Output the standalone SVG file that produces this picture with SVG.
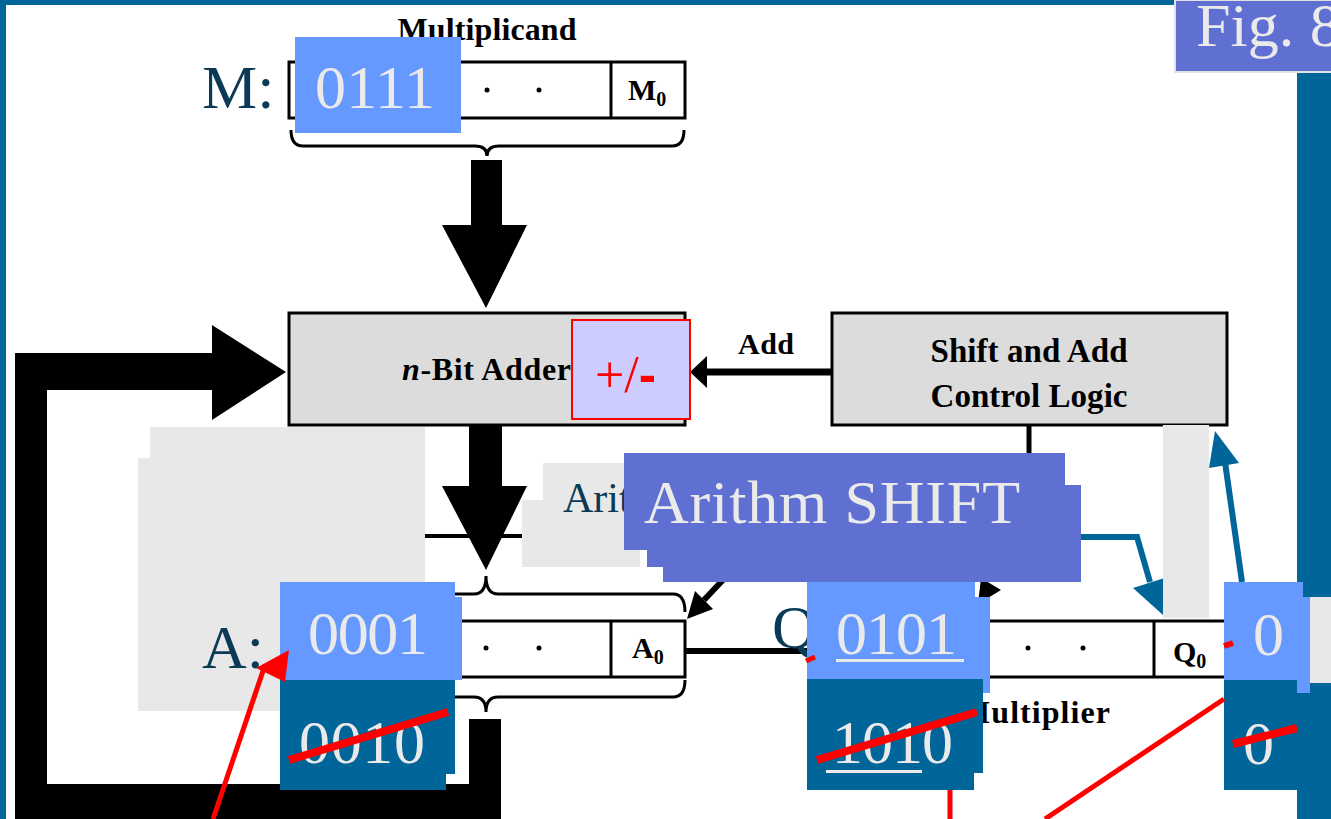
<svg xmlns="http://www.w3.org/2000/svg" width="1331" height="819" viewBox="0 0 1331 819">
<style>
.b{font-family:"Liberation Serif","Times New Roman",serif;font-weight:bold;fill:#000}
.lbl{font-family:"Liberation Serif","Times New Roman",serif;fill:#0A3A55}
.val{font-family:"Liberation Serif","Times New Roman",serif;fill:#EAEAEA;font-size:62px}
.reg{fill:#fff;stroke:#000;stroke-width:3}
.box{fill:#DDDCDD;stroke:#000;stroke-width:3}
.brace{fill:none;stroke:#000;stroke-width:3}
.lt{fill:#6699FF}
.dk{fill:#006699}
.gr{fill:#E8E8E8}
.red{stroke:#FF0000;fill:none}
.bl{stroke:#006699;fill:none;stroke-width:6}
</style>
<rect width="1331" height="819" fill="#fff"/>
<g id="frame">
<rect x="0" y="0" width="1175" height="5" fill="#006699"/>
<rect x="0" y="0" width="6" height="819" fill="#006699"/>
<rect x="1297" y="72" width="34" height="747" fill="#006699"/>
</g>
<g id="connectors">
<path d="M15,353 H215 V390 H47 V784 H469 V719 H501 V819 H15 Z" fill="#000"/>
<polygon points="212,325 286,372 212,420" fill="#000"/>
<rect x="471" y="160" width="31" height="66" fill="#000"/>
<polygon points="442,225 527,225 486,308" fill="#000"/>
<rect x="469" y="425" width="33" height="62" fill="#000"/>
<polygon points="442,486 527,486 486,570" fill="#000"/>
<line x1="424" y1="536" x2="522" y2="536" stroke="#000" stroke-width="4"/>
<line x1="832" y1="372" x2="704" y2="372" stroke="#000" stroke-width="7"/>
<polygon points="690,372 707,356 707,388" fill="#000"/>
<line x1="1029" y1="425" x2="1029" y2="456" stroke="#000" stroke-width="5"/>
<line x1="685" y1="651" x2="810" y2="651" stroke="#000" stroke-width="6"/>
<line x1="704" y1="600" x2="738" y2="564" stroke="#000" stroke-width="6"/>
<polygon points="687,619 713,609 695,591" fill="#000"/>
<polygon points="978,604 981,578 1001,590" fill="#000"/>
<path class="bl" d="M1081,537 H1137 L1150,582"/>
<polygon points="1163,615 1133,588 1171,576" fill="#006699"/>
</g>
<g id="multiplicand">
<text class="b" x="487" y="40" font-size="32" text-anchor="middle" textLength="179">Multiplicand</text>
<rect class="reg" x="289" y="62" width="396" height="56"/>
<line x1="611" y1="62" x2="611" y2="118" stroke="#000" stroke-width="3"/>
<circle cx="487" cy="90" r="2.5"/><circle cx="539" cy="90" r="2.5"/>
<text class="b" x="628" y="100" font-size="30">M<tspan font-size="20" dy="6">0</tspan></text>
<path class="brace" d="M291,130 Q291,146 303,146 H475 Q487,146 487,156 Q487,146 499,146 H672 Q684,146 684,130"/>
</g>
<g id="adder">
<rect class="box" x="289" y="313" width="396" height="112"/>
<text class="b" x="402" y="380" font-size="32" textLength="169"><tspan font-style="italic">n</tspan>-Bit Adder</text>
</g>
<g id="control">
<rect class="box" x="832" y="313" width="395" height="112"/>
<text class="b" x="1029" y="362" font-size="33" text-anchor="middle" textLength="197">Shift and Add</text>
<text class="b" x="1029" y="407" font-size="33" text-anchor="middle" textLength="197">Control Logic</text>
<text class="b" x="738" y="354" font-size="30" textLength="56">Add</text>
</g>
<g id="regA">
<path class="brace" d="M291,612 Q291,594 303,594 H474 Q486,594 486,576 Q486,594 498,594 H673 Q685,594 685,612"/>
<rect class="reg" x="289" y="621" width="396" height="56"/>
<line x1="611" y1="621" x2="611" y2="677" stroke="#000" stroke-width="3"/>
<circle cx="486" cy="648" r="2.5"/><circle cx="539" cy="648" r="2.5"/>
<text class="b" x="632" y="658" font-size="30">A<tspan font-size="20" dy="6">0</tspan></text>
<path class="brace" d="M291,680 Q291,697 303,697 H474 Q486,697 486,712 Q486,697 498,697 H673 Q685,697 685,680"/>
</g>
<g id="regQ">
<rect class="reg" x="832" y="621" width="395" height="56"/>
<line x1="1154" y1="621" x2="1154" y2="677" stroke="#000" stroke-width="3"/>
<circle cx="1028" cy="648" r="2.5"/><circle cx="1083" cy="648" r="2.5"/>
<text class="b" x="1173" y="662" font-size="30">Q<tspan font-size="20" dy="6">0</tspan></text>
<text class="b" x="960" y="723" font-size="32" textLength="150">Multiplier</text>
</g>
<g id="overlays">
<path class="gr" d="M150,427 H425 V711 H138 V458 H150 Z"/>
<path class="gr" d="M543,463 H640 V567 H522 V500 H543 Z"/>
<rect class="gr" x="1163" y="425" width="46" height="193"/>
<rect class="gr" x="1303" y="597" width="28" height="86"/>
</g>
<g id="labels">
<text class="lbl" x="202" y="108" font-size="62">M:</text>
<text class="lbl" x="202" y="668" font-size="62">A:</text>
<text class="lbl" x="772" y="648" font-size="62">Q:</text>
<text class="lbl" x="563" y="512" font-size="42">Arit</text>
</g>
<g id="valM">
<rect class="lt" x="295" y="37" width="166" height="96"/>
<text class="val" x="315" y="108" textLength="120">0111</text>
</g>
<g id="plusminus">
<rect x="572" y="320" width="118" height="99" fill="#CCCCFF" stroke="#FF0000" stroke-width="2"/>
<text x="595" y="392" font-family="Liberation Serif,serif" font-size="52" fill="#FF0000">+/<tspan font-family="Liberation Sans,sans-serif" font-weight="bold">-</tspan></text>
</g>
<g id="shiftlabel">
<rect x="624" y="453" width="441" height="97" fill="#5F70D2"/>
<rect x="647" y="485" width="434" height="82" fill="#5F70D2"/>
<rect x="663" y="485" width="418" height="97" fill="#5F70D2"/>
<text class="val" x="644" y="523" font-size="62" textLength="376">Arithm SHIFT</text>
</g>
<g id="upArrow">
<line class="bl" x1="1242" y1="582" x2="1225" y2="462"/>
<polygon points="1215,431 1209,468 1239,463" fill="#006699"/>
</g>
<g id="valA">
<rect class="lt" x="280" y="582" width="175" height="98"/>
<rect class="lt" x="280" y="597" width="182" height="83"/>
<rect class="dk" x="280" y="680" width="175" height="94"/>
<rect class="dk" x="280" y="680" width="166" height="110"/>
<text class="val" x="308" y="654" textLength="120">0001</text>
<text class="val" x="299" y="763" textLength="126">0010</text>
</g>
<g id="valQ">
<rect class="lt" x="807" y="582" width="168" height="98"/>
<rect class="lt" x="807" y="597" width="183" height="96"/>
<rect class="dk" x="807" y="679" width="176" height="94"/>
<rect class="dk" x="807" y="679" width="167" height="111"/>
<text class="val" x="836" y="654" textLength="121">0101</text>
<rect x="836" y="659" width="128" height="3" fill="#EAEAEA"/>
<text class="val" x="832" y="763" textLength="121">1010</text>
<rect x="826" y="770" width="96" height="3" fill="#EAEAEA"/>
</g>
<g id="valQm1">
<rect class="lt" x="1224" y="582" width="79" height="98"/>
<rect class="lt" x="1224" y="597" width="86" height="96"/>
<rect class="dk" x="1224" y="680" width="73" height="110"/>
<text class="val" x="1253" y="655">0</text>
<text class="val" x="1243" y="764">0</text>
</g>
<g id="redMarks">
<line class="red" x1="289" y1="760" x2="448" y2="712" stroke-width="8"/>
<line class="red" x1="817" y1="760" x2="977" y2="712" stroke-width="8"/>
<line class="red" x1="1233" y1="744" x2="1297" y2="728" stroke-width="8"/>
<line class="red" x1="213" y1="819" x2="264" y2="668" stroke-width="5"/>
<polygon points="256,668 289,650 285,682" fill="#FF0000"/>
<line class="red" x1="950" y1="790" x2="950" y2="819" stroke-width="5"/>
<line class="red" x1="1045" y1="819" x2="1224" y2="699" stroke-width="5"/>
<line class="red" x1="806" y1="661" x2="815" y2="657" stroke-width="5"/>
<line class="red" x1="1224" y1="646" x2="1233" y2="643" stroke-width="6"/>
</g>
<g id="fig">
<rect x="1175" y="0" width="160" height="72" fill="#5F70D2" stroke="#E2E2E2" stroke-width="2"/>
<text class="val" x="1196" y="46" font-size="62">Fig. 8</text>
</g>
</svg>
